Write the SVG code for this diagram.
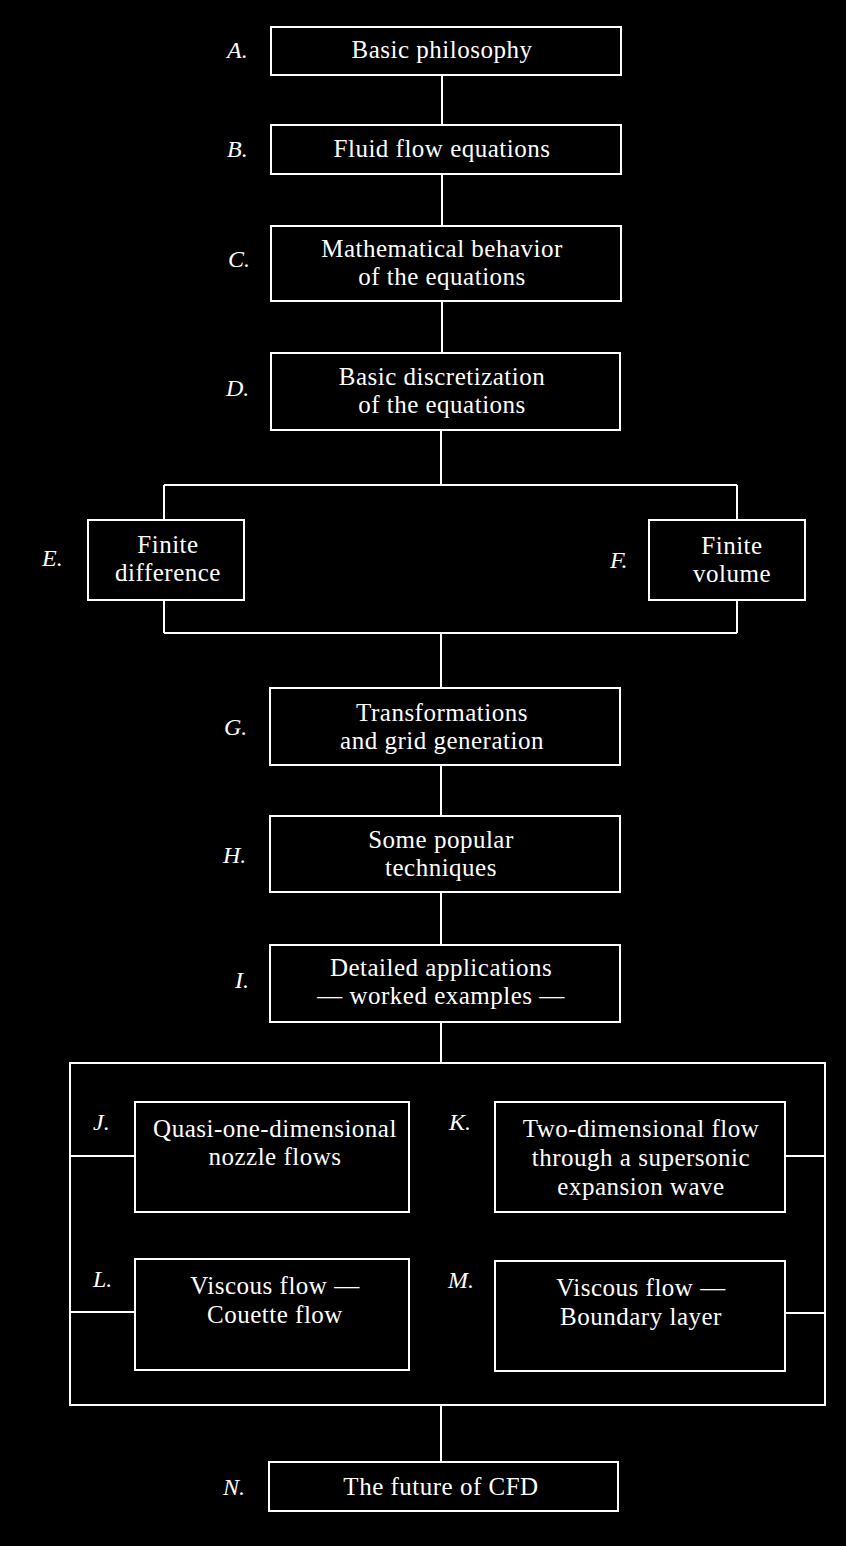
<svg xmlns="http://www.w3.org/2000/svg" width="846" height="1546" viewBox="0 0 846 1546">
<style>
.box{fill:none;stroke:#fff;stroke-width:2}
.ln{fill:none;stroke:#fff;stroke-width:2}
.t{font-family:"Liberation Serif","Times New Roman",serif;font-size:25px;letter-spacing:0.5px;fill:#fff;text-anchor:middle}
.lb{font-family:"Liberation Serif","Times New Roman",serif;font-size:24px;font-style:italic;fill:#fff}
</style>
<rect width="846" height="1546" fill="#000"/>
<g id="connectors">
<path class="ln" d="M442 75V125M442 174V226M442 301V353M441 430V485M164 485H737M164 485V520M737 485V520M164 600V633M737 600V633M164 633H737M441 633V688M441 765V816M441 892V945M441 1022V1063M70 1156H135M70 1312H135M785 1156H825M785 1313H825M441 1405V1462"/>
</g>
<g id="nodeA"><rect class="box" x="271" y="27" width="350" height="48"/><text class="lb" x="227" y="58">A.</text><text class="t" x="442" y="58">Basic philosophy</text></g>
<g id="nodeB"><rect class="box" x="271" y="125" width="350" height="49"/><text class="lb" x="227" y="157">B.</text><text class="t" x="442" y="157">Fluid flow equations</text></g>
<g id="nodeC"><rect class="box" x="271" y="226" width="350" height="75"/><text class="lb" x="228" y="267">C.</text><text class="t" x="442" y="257">Mathematical behavior</text><text class="t" x="442" y="285">of the equations</text></g>
<g id="nodeD"><rect class="box" x="271" y="353" width="349" height="77"/><text class="lb" x="226" y="396">D.</text><text class="t" x="442" y="385">Basic discretization</text><text class="t" x="442" y="413">of the equations</text></g>
<g id="nodeE"><rect class="box" x="88" y="520" width="156" height="80"/><text class="lb" x="42" y="566">E.</text><text class="t" x="168" y="553">Finite</text><text class="t" x="168" y="581">difference</text></g>
<g id="nodeF"><rect class="box" x="649" y="520" width="156" height="80"/><text class="lb" x="610" y="568">F.</text><text class="t" x="732" y="554">Finite</text><text class="t" x="732" y="582">volume</text></g>
<g id="nodeG"><rect class="box" x="270" y="688" width="350" height="77"/><text class="lb" x="224" y="735">G.</text><text class="t" x="442" y="721">Transformations</text><text class="t" x="442" y="749">and grid generation</text></g>
<g id="nodeH"><rect class="box" x="270" y="816" width="350" height="76"/><text class="lb" x="223" y="863">H.</text><text class="t" x="441" y="848">Some popular</text><text class="t" x="441" y="876">techniques</text></g>
<g id="nodeI"><rect class="box" x="270" y="945" width="350" height="77"/><text class="lb" x="235" y="988">I.</text><text class="t" x="441" y="976">Detailed applications</text><text class="t" x="441" y="1004">— worked examples —</text></g>
<g id="groupApps"><rect class="box" x="70" y="1063" width="755" height="342"/></g>
<g id="nodeJ"><rect class="box" x="135" y="1102" width="274" height="110"/><text class="lb" x="93" y="1130">J.</text><text class="t" x="275" y="1137">Quasi-one-dimensional</text><text class="t" x="275" y="1165">nozzle flows</text></g>
<g id="nodeK"><rect class="box" x="495" y="1102" width="290" height="110"/><text class="lb" x="449" y="1130">K.</text><text class="t" x="641" y="1137">Two-dimensional flow</text><text class="t" x="641" y="1166">through a supersonic</text><text class="t" x="641" y="1195">expansion wave</text></g>
<g id="nodeL"><rect class="box" x="135" y="1259" width="274" height="111"/><text class="lb" x="93" y="1287">L.</text><text class="t" x="275" y="1294">Viscous flow —</text><text class="t" x="275" y="1323">Couette flow</text></g>
<g id="nodeM"><rect class="box" x="495" y="1261" width="290" height="110"/><text class="lb" x="448" y="1288">M.</text><text class="t" x="641" y="1296">Viscous flow —</text><text class="t" x="641" y="1325">Boundary layer</text></g>
<g id="nodeN"><rect class="box" x="269" y="1462" width="349" height="49"/><text class="lb" x="223" y="1495">N.</text><text class="t" x="441" y="1495">The future of CFD</text></g>
</svg>
